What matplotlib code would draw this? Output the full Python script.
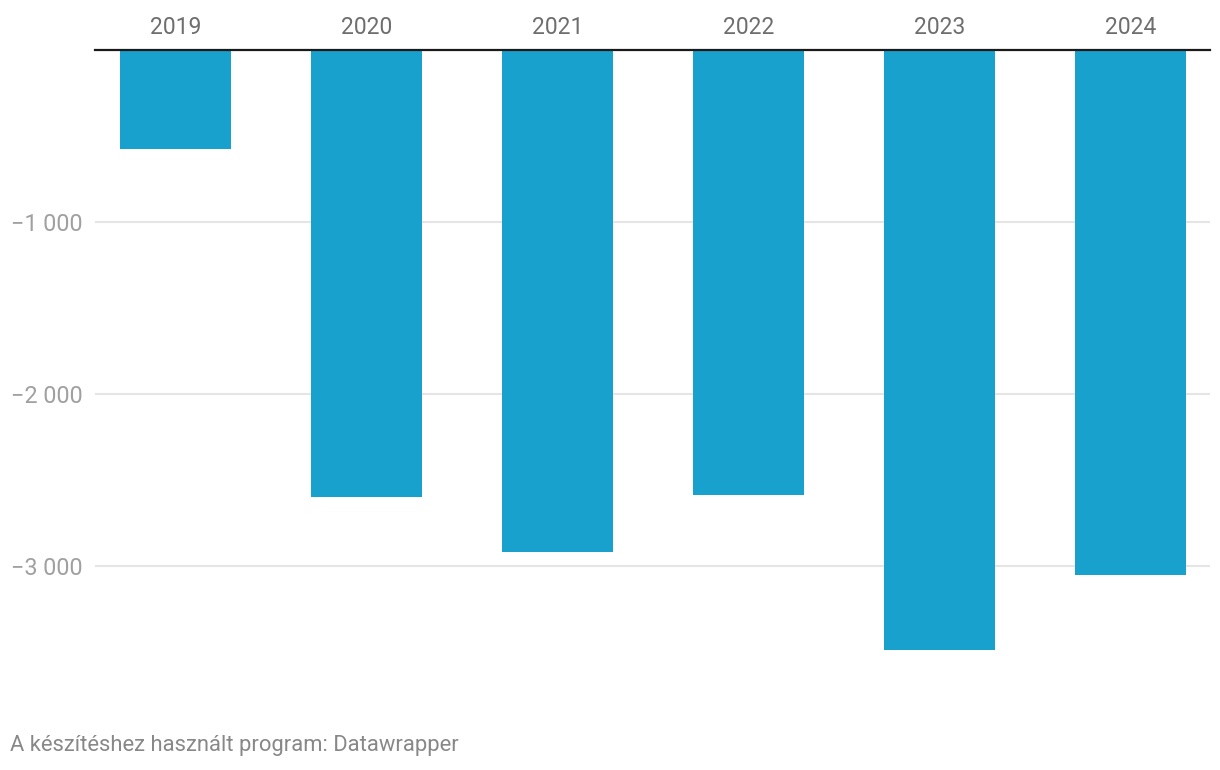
import matplotlib
matplotlib.use("Agg")
import matplotlib.pyplot as plt
from matplotlib.ticker import FuncFormatter, FixedLocator

years = ["2019", "2020", "2021", "2022", "2023", "2024"]
values = [-575, -2600, -2920, -2590, -3490, -3050]
yticks = [-1000, -2000, -3000]

plt.rcParams['font.family'] = ['Roboto', 'DejaVu Sans']

fig = plt.figure(figsize=(12.2, 7.7), dpi=100)
ax = fig.add_axes([95/1220, 1 - 669.2/770, (1210-95)/1220, (669.2-50)/770])

x = list(range(len(years)))
ax.bar(x, values, width=0.58, color="#18a1cd", zorder=2)

ax.set_xlim(-0.4215, 5.416)
ax.set_ylim(-3600, 0)

ax.yaxis.set_major_locator(FixedLocator(yticks))
ax.yaxis.set_major_formatter(FuncFormatter(lambda v, p: ("\u2212" if v < 0 else "") + f"{abs(int(v)):,}".replace(",", " ")))
ax.grid(axis="y", color="#e5e5e5", linewidth=1.5, zorder=0)
ax.tick_params(axis="y", length=0, pad=8.6, labelsize=16.8, labelcolor="#a0a0a0")

ax.xaxis.tick_top()
ax.set_xticks(x)
ax.set_xticklabels(years)
ax.tick_params(axis="x", length=0, pad=8, labelsize=16.5, labelcolor="#6e6e6e")

for s in ["left", "right", "bottom"]:
    ax.spines[s].set_visible(False)
ax.spines["top"].set_color("#1a1a1a")
ax.spines["top"].set_linewidth(1.6)
ax.spines["top"].set_zorder(3)

fig.text(10/1220, 1 - 746/770, "A készítéshez használt program: Datawrapper",
         fontsize=15.8, color="#888888", va="center", ha="left")

fig.savefig("out.png", dpi=100, facecolor="white")
